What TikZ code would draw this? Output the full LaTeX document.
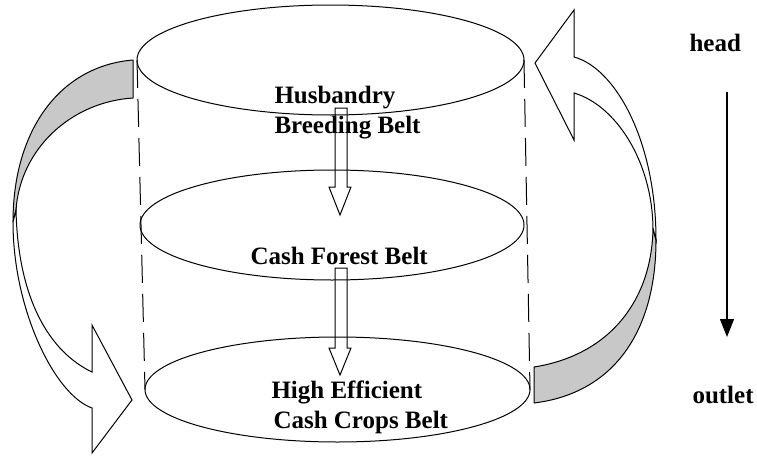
\documentclass[tikz,border=0pt]{standalone}
\usepackage{fontspec}
\setmainfont{Liberation Serif}
\usetikzlibrary{shapes.geometric,arrows.meta}
\definecolor{ribbongray}{RGB}{200,200,200}
\begin{document}
\begin{tikzpicture}[x=1pt,y=-1pt,line width=1pt,
  belt/.style={ellipse,draw,inner sep=0pt,outer sep=0pt},
  lbl/.style={font=\fontsize{25}{29}\selectfont\bfseries,inner sep=0pt,anchor=base west},
  guide/.style={dash pattern=on 28pt off 11pt},
  ribbonback/.style={draw,fill=ribbongray,line join=round},
  ribbonfront/.style={draw,fill=white,line join=miter},
  hollow/.style={draw,line join=miter}]
\useasboundingbox (0,0) rectangle (757,455);

% belts
\node[belt,minimum width=387pt,minimum height=110pt] (topbelt) at (330.5,60) {};
\node[belt,minimum width=384pt,minimum height=110pt] (midbelt) at (332,225) {};
\node[belt,minimum width=385pt,minimum height=105pt] (botbelt) at (337.5,389.5) {};

% dashed cylinder sides
\draw[guide] (topbelt.west) -- (botbelt.west);
\draw[guide] (topbelt.east) -- (botbelt.east);

% labels
\node[lbl] (husb) at (274,103) {Husbandry};
\node[lbl] (breed) at (274,133) {Breeding Belt};
\node[lbl] (forest) at (250,264) {Cash Forest Belt};
\node[lbl] (high) at (271,398) {High Efficient};
\node[lbl] (crops) at (273,428) {Cash Crops Belt};
\node[lbl] (head) at (689,51) {head};
\node[lbl] (outlet) at (692,403) {outlet};

% hollow vertical arrows
\draw[hollow] (335,108) -- (347,108) -- (347,187) -- (351,187) -- (340,215) -- (329,187) -- (335,187) -- cycle;
\draw[hollow] (335,268) -- (347,268) -- (347,348) -- (351,348) -- (340,375) -- (329,348) -- (335,348) -- cycle;

% left ribbon arrow
\draw[ribbonback] (133,60) .. controls (60,66) and (13,130) .. (13,222)
  -- (16,210) .. controls (20,150) and (70,102) .. (133,98) -- cycle;
\draw[ribbonfront] (13,222) .. controls (13,310) and (55,395) .. (92,408)
  -- (92,453) -- (132,400) -- (92,325) -- (92,372)
  .. controls (50,352) and (18,300) .. (16,210) -- cycle;

% right ribbon arrow
\draw[ribbonback] (534,403) .. controls (615,393) and (656,330) .. (656,240)
  -- (653,228) .. controls (652,300) and (610,355) .. (534,367) -- cycle;
\draw[ribbonfront] (656,240) .. controls (656,140) and (615,68) .. (574,57)
  -- (574,10) -- (535,63) -- (574,140) -- (574,93)
  .. controls (615,105) and (652,160) .. (653,228) -- cycle;

% flow direction arrow
\coordinate (flowtop) at (727,92);
\coordinate (flowend) at (727,337);
\draw[line width=1.2pt,-{Triangle[length=18pt,width=14pt]}] (flowtop) -- (flowend);
\end{tikzpicture}
\end{document}
